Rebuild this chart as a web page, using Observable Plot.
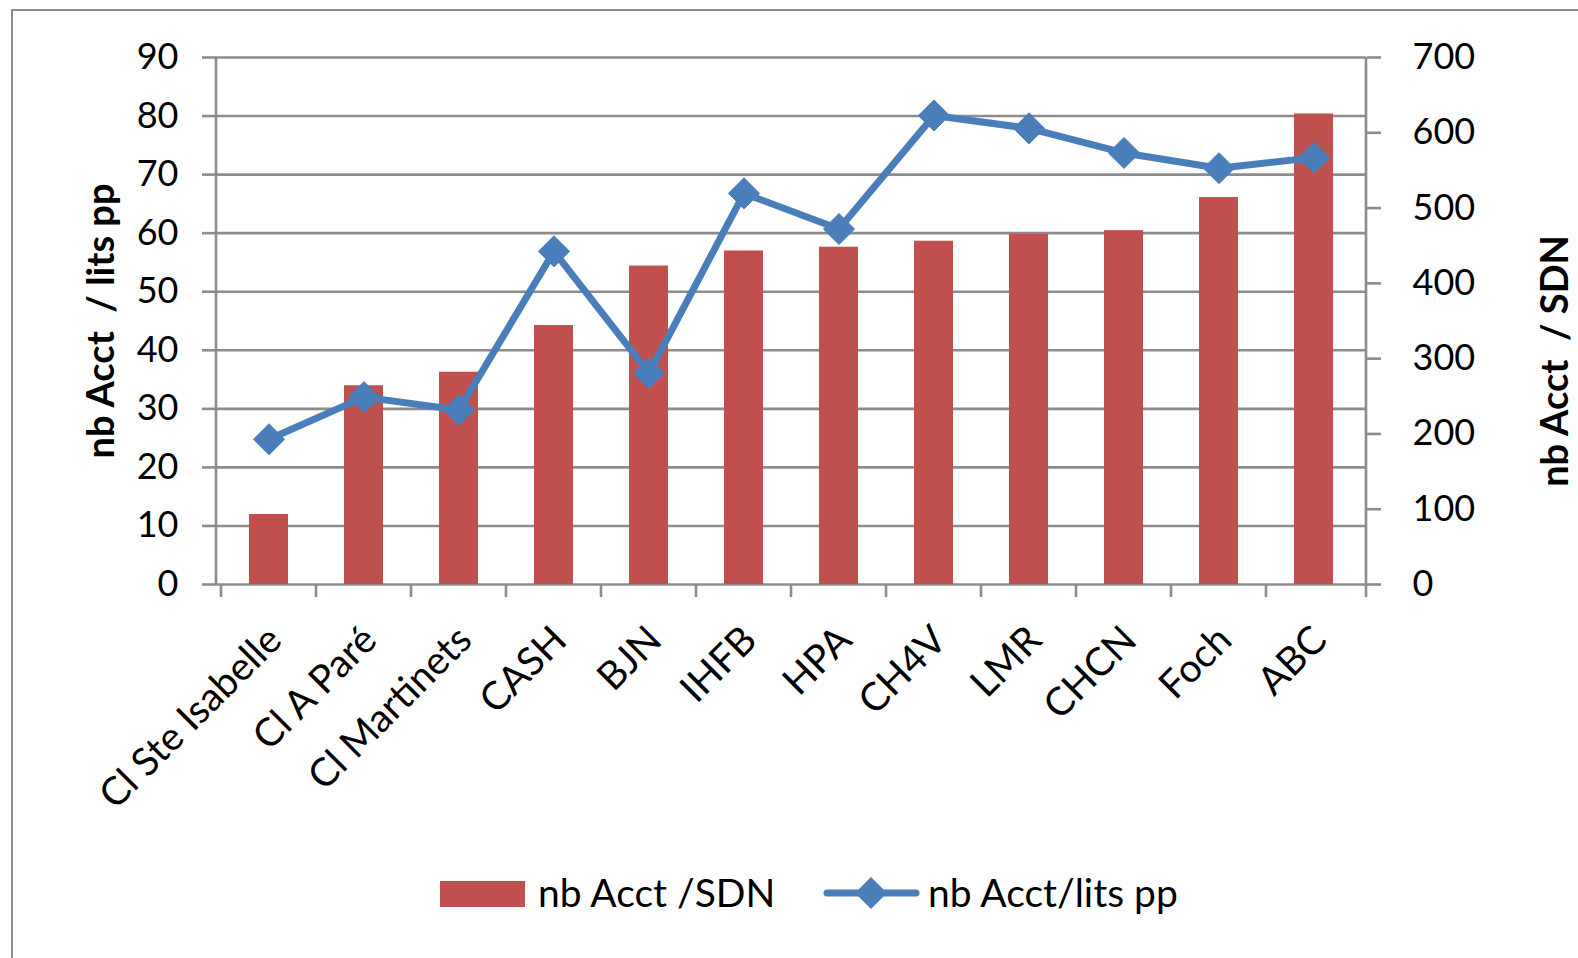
<!DOCTYPE html>
<html><head><meta charset="utf-8">
<script src="https://cdn.jsdelivr.net/npm/d3@7"></script>
<script src="https://cdn.jsdelivr.net/npm/@observablehq/plot@0.6"></script>
<style>
html,body{margin:0;padding:0;background:#fff;overflow:hidden;width:1578px;height:958px;}
#frame{position:absolute;left:11px;top:9px;width:1700px;height:1100px;border:2px solid #8c8c8c;box-sizing:border-box;pointer-events:none;}
#chart{position:absolute;left:0;top:0;}
svg text{white-space:pre;}
#legend{position:absolute;left:0;top:850px;width:1578px;height:86px;font-family:Lato,"Noto Sans",sans-serif;font-size:39px;color:#000;}
#legend .sw{position:absolute;left:440px;top:31px;width:85px;height:26px;background:#C0504D;}
#legend .t{position:absolute;line-height:44px;top:20px;white-space:pre;}
#legend svg{position:absolute;left:821px;top:23px;}
</style></head><body>
<div id="frame"></div>
<div id="chart"></div>
<div id="legend"></div>
<script>
const cats = ["Cl Ste Isabelle","Cl A Paré","Cl Martinets","CASH","BJN","IHFB","HPA","CH4V","LMR","CHCN","Foch","ABC"];
const sdn = [93, 264, 282, 344, 423, 443, 448, 456, 465, 470, 514, 625];
const litsPP = [24.8, 32.0, 29.8, 56.9, 36.1, 66.8, 60.7, 80.1, 77.9, 73.7, 71.1, 72.9];
const leftTicks = [0,10,20,30,40,50,60,70,80,90];
const rightTicks = [0,100,200,300,400,500,600,700];
const leftTitle = "nb Acct  / lits pp";
const rightTitle = "nb Acct  / SDN";
const seriesNames = ["nb Acct /SDN", "nb Acct/lits pp"];

const RED = "#C0504D", BLUE = "#4A7EBB", GRID = "#8c8c8c";
const k = 90 / 700; // right-axis units -> left-axis units
const data = cats.map((c, i) => ({cat: c, sdn: sdn[i], pp: litsPP[i]}));

const W = 1578, H = 850;

function axisLines(index, scales, values, dims) {
  const {width, height, marginLeft, marginRight, marginTop, marginBottom} = dims;
  const x0 = marginLeft, x1 = width - marginRight, yTop = marginTop, yBot = height - marginBottom;
  const g = d3.create("svg:g").attr("stroke", GRID).attr("stroke-width", 2.6).attr("fill", "none");
  g.append("line").attr("x1", x0).attr("x2", x0).attr("y1", yTop).attr("y2", yBot);
  g.append("line").attr("x1", x1).attr("x2", x1).attr("y1", yTop).attr("y2", yBot);
  const n = cats.length;
  const bounds = cats.map((c, i) => (scales.x ? scales.x(c) : x0 + i * (x1 - x0) / n)).concat([x1]);
  for (const b of bounds) g.append("line").attr("x1", b).attr("x2", b).attr("y1", yBot).attr("y2", yBot + 13);
  return g.node();
}

const chart = Plot.plot({
  width: W, height: H,
  marginLeft: 216, marginRight: 212, marginTop: 57, marginBottom: H - 584,
  x: {type: "band", domain: cats, padding: 0, label: null},
  y: {domain: [0, 90], label: null},
  style: {fontFamily: "Lato, 'Noto Sans', sans-serif", fontSize: "36px", color: "#000", background: "transparent", overflow: "visible"},
  marks: [
    Plot.gridY(leftTicks, {stroke: GRID, strokeOpacity: 1, strokeWidth: 2.6}),
    Plot.barY(data, {x: "cat", y: d => d.sdn * k, fill: RED, insetLeft: 28, insetRight: 28}),
    axisLines,
    Plot.axisY(leftTicks, {anchor: "left", tickSize: 14, tickPadding: 24, stroke: GRID, strokeWidth: 2.6, strokeOpacity: 1, label: null, tickFormat: d => String(d)}),
    Plot.axisY(rightTicks.map(v => v * k), {anchor: "right", tickSize: 14, tickPadding: 32, stroke: GRID, strokeWidth: 2.6, strokeOpacity: 1, label: null, tickFormat: d => String(Math.round(d / k))}),
    Plot.axisX({anchor: "bottom", tickSize: 0, tickPadding: 49, dx: 6, tickRotate: -45, label: null, fontSize: 39}),
    Plot.line(data, {x: "cat", y: "pp", stroke: BLUE, strokeWidth: 7, strokeLinejoin: "round"}),
    Plot.dot(data, {x: "cat", y: "pp", symbol: "diamond2", r: 14, fill: BLUE, stroke: BLUE, strokeWidth: 1}),
    Plot.text([leftTitle], {text: d => d, frameAnchor: "left", textAnchor: "middle", dx: -115, rotate: -90, fontWeight: "bold", fontSize: 38, fill: "#000"}),
    Plot.text([rightTitle], {text: d => d, frameAnchor: "right", textAnchor: "middle", dx: 189, dy: 40, rotate: -90, fontWeight: "bold", fontSize: 38, fill: "#000"})
  ]
});
document.getElementById("chart").appendChild(chart);

const lg = document.getElementById("legend");
lg.innerHTML = `<div class="sw"></div>
<div class="t" style="left:538px">${seriesNames[0]}</div>
<svg width="100" height="40" viewBox="0 0 100 40">
  <line x1="6" x2="95" y1="20" y2="20" stroke="${BLUE}" stroke-width="7" stroke-linecap="round"/>
  <polygon points="50,4 66,20 50,36 34,20" fill="${BLUE}"/>
</svg>
<div class="t" style="left:928px">${seriesNames[1]}</div>`;
</script>
</body></html>
